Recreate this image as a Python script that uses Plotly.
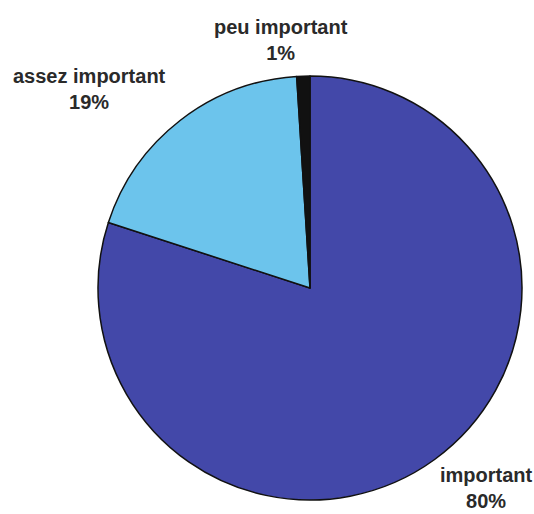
import plotly.graph_objects as go

# Survey answers and their shares (%)
categories = ["important", "assez important", "peu important"]
values = [80, 19, 1]
colors = ["#4348A9", "#6CC4EC", "#111111"]

W, H = 534, 514
cx, cy, r = 310, 288, 212  # pie centre and radius in pixels

fig = go.Figure(
    go.Pie(
        labels=categories,
        values=values,
        sort=False,
        direction="clockwise",
        rotation=0,
        marker=dict(colors=colors, line=dict(color="#111111", width=1.5)),
        textinfo="none",
        hoverinfo="label+percent",
        showlegend=False,
        domain=dict(
            x=[(cx - r) / W, (cx + r) / W],
            y=[(H - cy - r) / H, (H - cy + r) / H],
        ),
    )
)

# Outside labels: name on the first line, share on the second
label_pos = {
    "important": (486, 488),
    "assez important": (89, 89),
    "peu important": (281, 40),
}
for cat, val in zip(categories, values):
    px, py = label_pos[cat]
    fig.add_annotation(
        x=px / W,
        y=1 - py / H,
        xref="paper",
        yref="paper",
        text=f"{cat}<br>{val}%",
        showarrow=False,
        align="center",
        xanchor="center",
        yanchor="middle",
        font=dict(family="Liberation Sans, Arial, sans-serif", size=20,
                  color="#2a2a2a", weight="bold"),
    )

fig.update_layout(
    width=W,
    height=H,
    margin=dict(l=0, r=0, t=0, b=0),
    paper_bgcolor="white",
    plot_bgcolor="white",
)

fig.write_html("out.html")
